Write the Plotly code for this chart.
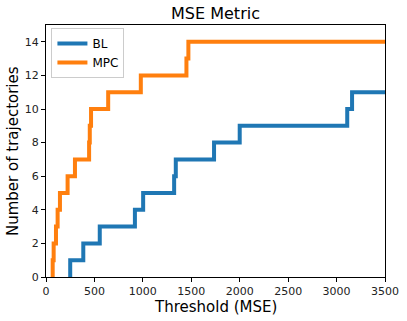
import plotly.graph_objects as go

# Thresholds (MSE) at which each cumulative count increments
bl_thresholds = [250, 385, 555, 918, 1003, 1323, 1340, 1735, 2000, 3110, 3160]
mpc_thresholds = [69, 79, 103, 120, 144, 223, 299, 445, 452, 465, 642, 979, 1450, 1470]
x_max = 3500
x_ticks = [0, 500, 1000, 1500, 2000, 2500, 3000, 3500]
y_ticks = [0, 2, 4, 6, 8, 10, 12, 14]


def step_series(thr, xmax):
    xs = [thr[0]] + list(thr) + [xmax]
    ys = [0] + list(range(1, len(thr) + 1)) + [len(thr)]
    return xs, ys


fig = go.Figure()
for name, thr, color in [("BL", bl_thresholds, "#1f77b4"),
                         ("MPC", mpc_thresholds, "#ff7f0e")]:
    xs, ys = step_series(thr, x_max)
    fig.add_trace(go.Scatter(x=xs, y=ys, mode="lines", name=name,
                             line=dict(color=color, width=4, shape="hv")))

axis_common = dict(showline=True, linecolor="black", linewidth=1, mirror=True,
                   ticks="outside", ticklen=4, tickcolor="black", showgrid=False,
                   zeroline=False, automargin=False,
                   tickfont=dict(size=11, color="#222"))

W, H = 407, 321
L, R, T, B = 46, 22, 25, 44

fig.update_layout(
    width=W, height=H,
    margin=dict(l=L, r=R, t=T, b=B, autoexpand=False),
    paper_bgcolor="white", plot_bgcolor="white",
    font=dict(family="DejaVu Sans", color="black"),
    title=dict(text="MSE Metric", x=0.5, xref="paper", xanchor="center",
               y=1 - 13 / H, yref="container", yanchor="middle",
               font=dict(size=16)),
    xaxis=dict(range=[0, x_max], tickvals=x_ticks, **axis_common),
    yaxis=dict(range=[0, 15], tickvals=y_ticks, **axis_common),
    legend=dict(x=0.016, y=0.988, xanchor="left", yanchor="top",
                bgcolor="white", bordercolor="#cccccc", borderwidth=1,
                font=dict(size=12), tracegroupgap=0),
    showlegend=True,
    annotations=[
        dict(text="Threshold (MSE)", xref="paper", yref="paper",
             x=0.5, y=-(307 - (H - B)) / (H - T - B), xanchor="center",
             yanchor="middle", showarrow=False, font=dict(size=15)),
        dict(text="Number of trajectories", xref="paper", yref="paper",
             x=-(L - 13) / (W - L - R), y=0.5, xanchor="center",
             yanchor="middle", textangle=-90, showarrow=False,
             font=dict(size=15)),
    ],
)

fig.write_html("out.html",
               config={"displayModeBar": False},
               post_script="document.body.style.margin='0';document.body.style.overflow='hidden';")
